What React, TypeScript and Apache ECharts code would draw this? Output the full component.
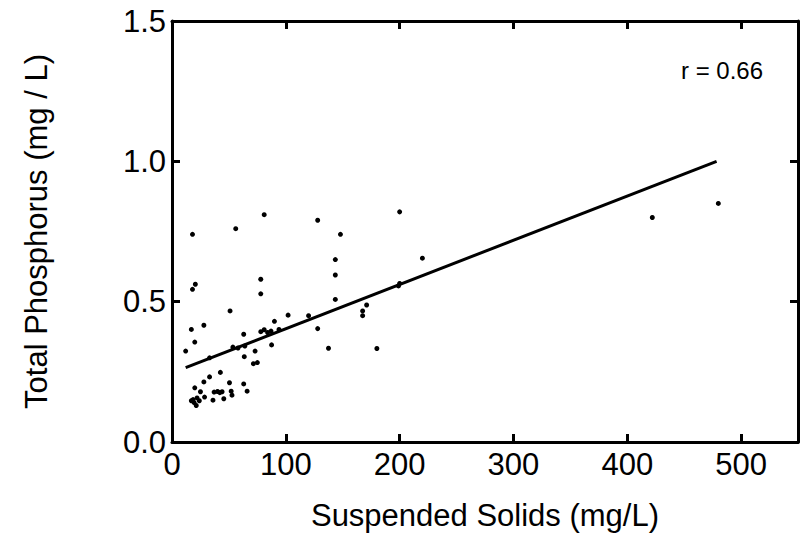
import React, { useEffect, useRef } from "react";
import * as echarts from "echarts";

// Suspended solids (mg/L) for each sample
const suspendedSolids = [
  18, 56, 81, 128, 200, 148, 422, 480, 220, 143.5,
  143.5, 143.5, 78, 78, 20.5, 18, 51, 102, 120, 128,
  137.5, 180, 171, 167.5, 167.5, 199, 200, 17, 28, 20,
  12, 63, 78, 81, 84, 87, 94, 90, 87.5, 53.5,
  58, 64, 73, 63.5, 71.5, 75, 33, 42.5, 33, 28,
  50.5, 63, 66, 52, 52.7, 20, 25, 28.6, 36, 37,
  40, 42, 44, 45.5, 18.5, 22, 21.3, 17, 24, 19.5,
];
// Total phosphorus (mg/L) for each sample
const totalPhosphorus = [
  0.74, 0.76, 0.81, 0.79, 0.82, 0.74, 0.8, 0.85, 0.655, 0.65,
  0.595, 0.508, 0.58, 0.528, 0.562, 0.544, 0.467, 0.452, 0.45, 0.404,
  0.334, 0.333, 0.488, 0.467, 0.45, 0.556, 0.565, 0.401, 0.416, 0.356,
  0.324, 0.384, 0.393, 0.4, 0.39, 0.395, 0.401, 0.43, 0.346, 0.338,
  0.335, 0.342, 0.324, 0.304, 0.279, 0.283, 0.3, 0.248, 0.232, 0.214,
  0.211, 0.207, 0.181, 0.181, 0.167, 0.193, 0.179, 0.16, 0.149, 0.178,
  0.18, 0.176, 0.179, 0.154, 0.151, 0.157, 0.13, 0.147, 0.147, 0.14,
];
// Regression line end points
const fitX = [12, 478.5];
const fitY = [0.265, 1.0];

const xTickLabels = ["0", "100", "200", "300", "400", "500"];
const yTickLabels = ["0.0", "0.5", "1.0", "1.5"];
const correlationLabel = "r = 0.66";
const xAxisTitle = "Suspended Solids (mg/L)";
const yAxisTitle = "Total Phosphorus (mg / L)";

const FONT = "'Liberation Sans', Arial, Helvetica, sans-serif";

export default function App() {
  const ref = useRef<HTMLDivElement>(null);

  useEffect(() => {
    if (!ref.current) return;
    const chart = echarts.init(ref.current, undefined, { renderer: "svg" });

    const points = suspendedSolids.map((x, i) => [x, totalPhosphorus[i]]);
    const fit = fitX.map((x, i) => [x, fitY[i]]);

    const axisLine = { show: true, onZero: false, lineStyle: { color: "#000", width: 3 } };
    const axisTick = { show: true, inside: true, length: 8, lineStyle: { color: "#000", width: 3 } };

    const xLabel = (v: number) => {
      const idx = xTickLabels.indexOf(String(v));
      return idx >= 0 ? xTickLabels[idx] : "";
    };
    const yLabel = (v: number) => {
      const s = v.toFixed(1);
      return yTickLabels.indexOf(s) >= 0 ? s : "";
    };

    chart.setOption({
      animation: false,
      backgroundColor: "#fff",
      grid: { left: 172, right: -1, top: 21, bottom: 112, containLabel: false },
      xAxis: [
        {
          type: "value",
          min: 0,
          max: 550,
          interval: 100,
          position: "bottom",
          axisLine,
          axisTick,
          splitLine: { show: false },
          axisLabel: {
            color: "#000",
            fontSize: 31,
            fontFamily: FONT,
            margin: 7,
            formatter: xLabel,
          },
          name: xAxisTitle,
          nameLocation: "middle",
          nameGap: 58,
          nameTextStyle: { color: "#000", fontSize: 31, fontFamily: FONT },
        },
        {
          type: "value",
          min: 0,
          max: 550,
          interval: 100,
          position: "top",
          axisLine,
          axisTick,
          splitLine: { show: false },
          axisLabel: { show: false },
        },
      ],
      yAxis: [
        {
          type: "value",
          min: 0,
          max: 1.5,
          interval: 0.5,
          position: "left",
          axisLine,
          axisTick,
          splitLine: { show: false },
          axisLabel: {
            color: "#000",
            fontSize: 31,
            fontFamily: FONT,
            margin: 6,
            formatter: yLabel,
          },
          name: yAxisTitle,
          nameLocation: "middle",
          nameGap: 120,
          nameRotate: 90,
          nameTextStyle: { color: "#000", fontSize: 31, fontFamily: FONT },
        },
        {
          type: "value",
          min: 0,
          max: 1.5,
          interval: 0.5,
          position: "right",
          axisLine,
          axisTick,
          splitLine: { show: false },
          axisLabel: { show: false },
        },
      ],
      series: [
        {
          type: "scatter",
          xAxisIndex: 0,
          yAxisIndex: 0,
          data: points,
          symbol: "circle",
          symbolSize: 5,
          itemStyle: { color: "#000", opacity: 1 },
          silent: true,
        },
        {
          type: "line",
          xAxisIndex: 0,
          yAxisIndex: 0,
          data: fit,
          showSymbol: false,
          symbol: "none",
          lineStyle: { color: "#000", width: 3 },
          silent: true,
        },
      ],
      graphic: [
        {
          type: "text",
          left: 681,
          top: 58,
          style: {
            text: correlationLabel,
            fill: "#000",
            fontSize: 24,
            fontFamily: FONT,
          },
        },
      ],
    });

    return () => chart.dispose();
  }, []);

  return (
    <div
      ref={ref}
      style={{ position: "fixed", left: 0, top: 0, width: 801, height: 554, background: "#fff" }}
    />
  );
}
